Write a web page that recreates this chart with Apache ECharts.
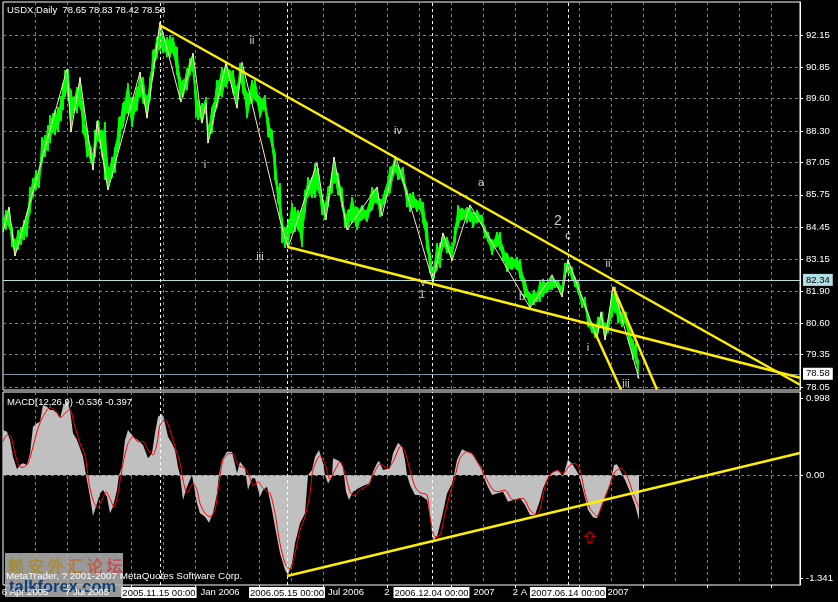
<!DOCTYPE html>
<html><head><meta charset="utf-8">
<style>html,body{margin:0;padding:0;background:#000}#c{width:838px;height:602px}</style>
<script src="https://cdn.jsdelivr.net/npm/echarts@6/dist/echarts.min.js"></script></head>
<body><div id="c"></div>
<script>
// bar number, high, low of the daily range
const priceBars = [
[3,84.86,84.26],[6,85.14,84.34],[9,85.26,84.46],[12,84.46,83.66],[15,83.94,83.30],[18,84.34,83.54],[21,84.46,83.74],[24,84.74,83.94],[27,85.02,84.06],[30,86.06,85.02],[33,86.42,85.66],[36,86.74,85.94],[39,86.62,86.02],[42,88.06,87.02],[45,88.14,87.26],[48,88.54,87.50],[50,88.94,87.82],[53,89.02,88.22],[55,89.14,88.14],[58,89.26,88.26],[61,89.70,88.70],[63,90.22,89.14],[65,90.74,89.66],[68,90.78,89.66],[71,89.94,88.26],[73,89.66,89.02],[77,90.06,89.02],[80,90.46,89.26],[83,89.42,88.22],[87,88.34,87.26],[91,87.66,87.02],[93,87.42,86.74],[95,88.34,87.26],[98,88.74,87.94],[102,88.34,87.26],[105,88.66,86.34],[108,86.86,85.94],[112,87.26,86.42],[115,87.66,86.62],[119,88.86,87.66],[123,89.42,88.46],[128,90.22,89.02],[132,89.66,88.46],[137,90.06,89.14],[140,90.66,89.66],[143,90.46,89.42],[147,89.66,88.82],[150,90.46,89.54],[153,91.54,90.46],[157,92.06,91.26],[160,92.66,91.54],[163,92.22,91.42],[167,92.06,91.26],[170,92.14,91.26],[173,92.06,91.42],[177,91.66,90.54],[180,90.46,89.54],[183,90.34,89.66],[187,90.82,89.94],[190,91.22,90.54],[193,91.42,90.66],[196,89.94,88.86],[198,89.54,88.74],[202,89.42,88.62],[206,89.66,89.02],[208,88.46,87.82],[212,89.26,88.22],[217,90.34,89.26],[222,90.86,89.66],[226,91.02,90.06],[230,90.74,90.34],[233,90.74,89.82],[237,90.06,89.22],[240,91.02,90.22],[243,90.86,89.82],[247,89.82,88.82],[252,90.34,89.42],[255,90.34,89.54],[260,89.66,88.86],[265,89.74,89.14],[268,88.86,88.06],[272,88.34,87.66],[275,87.42,86.34],[278,86.06,85.42],
[280,86.22,84.86],[282,84.86,83.82],[285,84.46,83.62],[288,84.74,83.66],[292,85.42,84.22],[295,85.26,84.26],[298,85.14,84.34],[302,85.14,83.66],[305,85.94,85.02],[308,86.46,85.66],[312,86.46,85.62],[315,87.02,85.62],[318,86.82,85.94],[322,85.74,84.94],[325,85.42,84.74],[328,86.06,85.26],[332,86.62,85.82],[334,87.26,86.22],[338,86.62,85.74],[342,86.02,85.26],[345,85.02,84.42],[348,85.14,84.34],[352,85.66,84.62],[357,85.26,84.34],[362,85.34,84.74],[367,85.14,84.66],[372,86.06,85.14],[377,86.06,85.42],[380,85.54,84.86],[385,85.94,85.42],[390,86.86,85.82],[395,87.26,86.66],[398,86.94,86.34],[403,86.86,86.22],[407,85.94,85.26],[410,85.82,85.06],[413,85.86,85.22],[417,85.54,85.06],[420,85.62,85.14],[423,85.46,84.62],[427,84.62,83.54],[430,83.42,82.62],[433,82.74,82.22],[437,83.82,82.74],[440,83.82,82.82],[443,84.22,83.66],[447,84.06,83.42],[452,83.66,83.14],[455,84.46,83.82],[458,85.34,84.46],[462,85.22,84.74],[467,85.26,84.62],[470,85.34,84.66],[473,85.06,84.42],[477,85.14,84.62],[482,84.94,84.54],[485,84.46,84.02],[488,84.26,83.86],[492,83.94,83.34],[497,84.26,83.66],[500,84.26,83.54],[503,83.66,83.14],[507,83.42,82.66],[512,83.26,82.74],[517,83.26,82.74],[520,83.14,82.42],[525,82.34,81.66],[530,81.82,81.22],[534,81.94,81.34],[537,81.82,81.46],
[540,82.34,81.46],[543,82.38,81.66],[547,82.22,81.82],[552,82.54,81.94],[555,82.34,82.02],[558,82.34,82.02],[562,82.06,81.66],[565,83.02,82.62],[568,83.14,82.62],[572,82.86,82.34],[575,82.46,82.06],[578,82.34,81.82],[582,81.66,81.22],[585,81.66,81.22],[588,81.02,80.46],[592,80.62,80.22],[595,80.46,80.02],[598,80.86,80.22],[602,81.06,80.46],[605,80.62,79.94],[608,80.74,80.22],[612,81.86,80.86],[615,82.06,81.02],[618,81.54,80.62],[622,81.02,80.46],[626,81.06,80.54],[629,80.54,79.82],[633,79.94,79.14],[636,79.82,79.02],[638,79.14,78.42]];
const zigzag = [[3,84.26],[9,85.26],[15,83.30],[67,90.78],[71,88.26],[80,90.42],[93,86.74],[97,88.70],[108,85.94],[140,90.66],[147,88.82],[160,92.66],[181,89.46],[193,91.42],[202,88.62],[206,89.42],[208,87.82],[226,91.02],[237,89.22],[242,91.06],[280,84.74],[288,83.62],[317,87.02],[326,84.74],[334,87.26],[347,84.34],[377,86.06],[382,84.90],[396,87.26],[433,82.26],[443,84.22],[452,83.10],[470,85.34],[530,81.22],[547,82.22],[552,82.54],[562,81.66],[568,83.14],[597,80.02],[601,81.06],[605,79.94],[613,82.06],[639,78.38]];
const upperTrendLines = [
 [[160,92.54],[800,78.14]],
 [[288,83.66],[800,78.42]],
 [[613,82.06],[657,77.94]],
 [[595,80.22],[621,77.94]]];
const macdTrendLine = [[287,-1.315],[800,0.286]];
const macdHist = [[3,0.586],[7,0.564],[10,0.456],[13,0.239],[17,0.074],[20,0.130],[23,0.152],[27,0.130],[30,0.282],[33,0.629],[37,0.673],[40,0.694],[43,0.911],[47,0.890],[50,0.846],[53,0.846],[57,0.803],[60,0.738],[63,0.890],[67,0.977],[70,0.846],[73,0.543],[77,0.456],[80,0.347],[83,0.239],[86,0],[90,-0.282],[93,-0.534],[97,-0.369],[100,-0.239],[103,-0.195],[107,-0.282],[110,-0.499],[113,-0.412],[117,-0.195],[119,0],[122,0.109],[125,0.456],[128,0.586],[132,0.521],[135,0.477],[138,0.456],[143,0.391],[148,0.217],[152,0.282],[155,0.543],[158,0.760],[162,0.794],[165,0.673],[168,0.499],[172,0.412],[175,0.326],[178,0.109],[180,0],[183,-0.326],[187,-0.152],[192,0],[197,-0.369],[200,-0.499],[205,-0.543],[209,-0.621],[213,-0.499],[217,-0.239],[219,0],[222,0.195],[227,0.304],[232,0.304],[237,0.022],[240,0.174],[245,0.087],[248,-0.195],[252,-0.043],[255,-0.043],[260,-0.282],[263,-0.195],[267,-0.152],[272,-0.456],[275,-0.673],[280,-1.020],[285,-1.237],[288,-1.302],[292,-1.150],[295,-0.890],[300,-0.629],[305,-0.499],[308,0],[312,0.065],[315,0.239],[319,0.326],[323,0.152],[325,0],[328,-0.109],[332,-0.022],[333,0.217],[337,0.195],[340,0.174],[343,0.109],[346,-0.217],[349,-0.326],[353,-0.217],[358,-0.174],[365,-0.130],[370,-0.109],[373,0.043],[377,0.152],[379,0.187],[383,0.065],[390,0.087],[393,0.282],[398,0.421],[402,0.369],[405,0.195],[407,0],[410,-0.130],[415,-0.260],[420,-0.260],[427,-0.326],[430,-0.543],[433,-0.846],[437,-0.803],[442,-0.543],[447,-0.239],[452,-0.109],[454,0],[457,0.195],[462,0.334],[467,0.304],[472,0.282],[477,0.174],[482,0.087],[483,0],[487,-0.130],[492,-0.260],[497,-0.239],[503,-0.217],[508,-0.347],[513,-0.326],[520,-0.304],[525,-0.391],[530,-0.521],[535,-0.521],[540,-0.330],[543,-0.174],[548,-0.022],[553,0.043],[558,0.065],[563,-0.022],[568,0.204],[573,0.130],[579,0],[583,-0.195],[588,-0.456],[593,-0.551],[597,-0.564],[600,-0.456],[605,-0.304],[610,-0.109],[612,0],[614,0.130],[617,0.139],[620,0.065],[625,-0.065],[630,-0.217],[635,-0.391],[639,-0.586]];
const macdSignal = [[3,0.434],[7,0.521],[11,0.499],[15,0.282],[19,0.117],[23,0.100],[28,0.152],[33,0.369],[38,0.608],[43,0.760],[50,0.881],[55,0.846],[61,0.751],[65,0.803],[70,0.855],[74,0.673],[80,0.412],[85,0.260],[89,-0.109],[93,-0.326],[97,-0.421],[102,-0.326],[106,-0.217],[110,-0.304],[114,-0.421],[118,-0.239],[123,0.152],[128,0.412],[133,0.499],[138,0.434],[143,0.434],[148,0.326],[153,0.260],[157,0.412],[160,0.651],[165,0.725],[170,0.586],[175,0.369],[180,0.152],[183,-0.065],[187,-0.230],[193,-0.109],[197,-0.195],[200,-0.369],[205,-0.499],[210,-0.543],[215,-0.456],[218,-0.195],[223,0.195],[228,0.273],[233,0.282],[238,0.130],[245,0.087],[250,-0.043],[253,-0.130],[258,-0.087],[263,-0.174],[270,-0.239],[275,-0.499],[280,-0.890],[285,-1.150],[290,-1.228],[295,-1.020],[300,-0.716],[305,-0.543],[310,-0.239],[313,0.065],[320,0.252],[325,0.152],[330,-0.056],[335,0.065],[340,0.174],[345,0.022],[350,-0.217],[354,-0.273],[360,-0.195],[368,-0.130],[373,0],[380,0.139],[388,0.087],[393,0.174],[401,0.378],[405,0.304],[410,0.065],[415,-0.152],[420,-0.230],[427,-0.260],[430,-0.543],[435,-0.803],[440,-0.781],[445,-0.499],[450,-0.239],[455,-0.022],[460,0.217],[467,0.304],[473,0.260],[480,0.109],[487,-0.065],[493,-0.195],[498,-0.217],[505,-0.195],[513,-0.326],[523,-0.304],[530,-0.456],[537,-0.529],[540,-0.447],[545,-0.152],[550,0],[557,0.056],[563,0.022],[570,0.130],[575,0.152],[580,0.065],[585,-0.239],[590,-0.434],[597,-0.534],[603,-0.347],[610,-0.130],[615,0.043],[621,0.087],[628,-0.043],[633,-0.239],[639,-0.421]];
const priceTicks = [92.15,90.85,89.60,88.30,87.05,85.75,84.45,83.15,81.90,80.60,79.35,78.05];
const priceTickText = ['92.15','90.85','89.60','88.30','87.05','85.75','84.45','83.15','81.90','80.60','79.35','78.05'];
const macdTicks = [0.998,0,-1.341];
const macdTickText = ['0.998','0.00','-1.341'];
const gridBars = [35,67,99,131,163,195,227,259,291,323,355,387,419,451,483,515,547,579,611,643,675,707,739,771];
const timeMarkBars = [67,131,195,259,323,387,451,515,579,643,707,771];
const cursorBars = [160,287,432,568];
const timeTickBars = [25,87,220,346,387,484,520,618,159,287,431.5,568];
const timeTickText = ['6 Apr 2005','7 Jul 2005','Jan 2006','Jul 2006','2','2007','2 A','2007','2005.11.15 00:00','2006.05.15 00:00','2006.12.04 00:00','2007.06.14 00:00'];
const waveLabels = [[252,91.90,'ii'],[205,86.94,'i'],[260,83.26,'iii'],[398,88.30,'iv'],[481,86.22,'a'],[422,81.74,'1'],[423,82.22,'v'],[568,84.10,'c'],[522,81.66,'b'],[608,82.98,'ii'],[588,79.62,'i'],[626,78.18,'iii']];
const bigWaveLabels = [[558,84.70,'2']];
const arrowMark = [[590,-0.807]];
const watermarkChars = ['赖','安','外','汇','论','坛'];
const watermarkColors = ['#a08c38','#a88c38','#b08a38','#b57a40','#b86050','#c45058'];
const FONT='"Liberation Sans"', GRIDC='#708090', FS=9.5;
const chart = echarts.init(document.getElementById('c'));
const xCommon = {type:'value',min:3,max:800,
  axisLine:{show:false},axisTick:{show:false,customValues:gridBars},
  splitLine:{show:true,lineStyle:{color:GRIDC,type:[3,3],width:1}}};
const trend = (d,x,y)=>({type:'line',data:d,xAxisIndex:x,yAxisIndex:y,symbol:'none',silent:true,z:6,
  lineStyle:{color:'#ffee00',width:2.5},clip:true});
chart.setOption({
 animation:false,backgroundColor:'#000',
 grid:[{left:3,top:2,width:797,height:388,show:true,borderColor:'#fff',borderWidth:1,outerBoundsMode:'none'},
       {left:3,top:392,width:797,height:193,show:true,borderColor:'#fff',borderWidth:1,outerBoundsMode:'none'}],
 xAxis:[
  {...xCommon,gridIndex:0,axisLabel:{show:false}},
  {...xCommon,gridIndex:1,axisLabel:{show:false}},
  {type:'value',gridIndex:1,min:3,max:800,position:'bottom',z:40,axisLine:{show:false},splitLine:{show:false},
   axisTick:{show:true,length:3,customValues:timeMarkBars,lineStyle:{color:'#fff'}},
   axisLabel:{show:true,customValues:timeTickBars,hideOverlap:false,interval:0,margin:2,color:'#fff',fontFamily:FONT,fontSize:FS,showMinLabel:true,showMaxLabel:true,
     formatter:v=>{const i=timeTickBars.indexOf(v);const t=timeTickText[i];return i>=8?'{b|'+t+'}':t;},
     rich:{b:{backgroundColor:'#fff',color:'#000',fontFamily:FONT,fontSize:FS,padding:[1,1,0,1]}}}}],
 yAxis:[
  {type:'value',gridIndex:0,position:'right',min:77.93,max:93.47,
   axisLine:{show:true,lineStyle:{color:'#fff'}},
   axisTick:{show:true,length:3,customValues:priceTicks,lineStyle:{color:'#fff'}},
   axisLabel:{customValues:priceTicks,color:'#fff',fontFamily:FONT,fontSize:FS,margin:6,showMinLabel:true,showMaxLabel:true,
     formatter:v=>priceTickText[priceTicks.indexOf(v)]},
   splitLine:{show:true,lineStyle:{color:GRIDC,type:[3,3]}}},
  {type:'value',gridIndex:1,position:'right',min:-1.432,max:1.081,
   axisLine:{show:true,lineStyle:{color:'#fff'}},
   axisTick:{show:true,length:3,customValues:macdTicks,lineStyle:{color:'#fff'}},
   axisLabel:{customValues:macdTicks,color:'#fff',fontFamily:FONT,fontSize:FS,margin:6,showMinLabel:true,showMaxLabel:true,
     formatter:v=>macdTickText[macdTicks.indexOf(v)]},
   splitLine:{show:false}}],
 series:[
  {type:'custom',name:'USDX',xAxisIndex:0,yAxisIndex:0,silent:true,z:3,data:priceBars,encode:{x:0,y:[1,2]},
   renderItem:(p,api)=>{
     const i=p.dataIndex, n=priceBars[Math.min(i+1,priceBars.length-1)];
     const x0=api.value(0),h0=api.value(1),l0=api.value(2),x1=n[0],h1=n[1],l1=n[2];
     const xm=(x0+x1)/2, dip=0.28*Math.min(h0-l0,h1-l1);
     const hm=(h0+h1)/2-dip, lm=(l0+l1)/2+dip;
     const pts=[[x0,h0],[xm,hm],[x1,h1],[x1,l1],[xm,lm],[x0,l0]].map(q=>api.coord(q));
     return {type:'polygon',shape:{points:pts},style:{fill:'#00ff00',stroke:'#00ff00',lineWidth:1}};},
   markLine:{silent:true,symbol:'none',animation:false,precision:2,data:[
     {yAxis:82.34,lineStyle:{color:'#b8dcdc',type:'solid',width:1},label:{position:'end',distance:3,formatter:'82.34',color:'#000',backgroundColor:'#b0e0e6',fontFamily:FONT,fontSize:FS,padding:[1,3]}},
     {yAxis:78.58,lineStyle:{color:'#8090a0',type:'solid',width:1},label:{position:'end',distance:3,formatter:'78.58',color:'#000',backgroundColor:'#fff',fontFamily:FONT,fontSize:FS,padding:[1,3]}},
     ...cursorBars.map(b=>({xAxis:b,lineStyle:{color:'#fff',type:[3,3],width:1},label:{show:false}}))]}},
  {type:'line',name:'ZigZag',data:zigzag,xAxisIndex:0,yAxisIndex:0,symbol:'none',silent:true,z:4,lineStyle:{color:'#ffe4c4',width:1}},
  ...upperTrendLines.map(d=>trend(d,0,0)),
  {type:'scatter',data:waveLabels,xAxisIndex:0,yAxisIndex:0,symbolSize:0,silent:true,z:7,
   label:{show:true,position:'inside',formatter:p=>p.data[2],color:'#ffffff',fontFamily:FONT,fontSize:11}},
  {type:'scatter',data:bigWaveLabels,xAxisIndex:0,yAxisIndex:0,symbolSize:0,silent:true,z:7,
   label:{show:true,position:'inside',formatter:p=>p.data[2],color:'#ffffff',fontFamily:FONT,fontSize:14}},
  {type:'line',name:'MACD',data:macdHist,xAxisIndex:1,yAxisIndex:1,symbol:'none',silent:true,z:3,
   lineStyle:{width:0},areaStyle:{color:'#c0c0c0',opacity:1,origin:0},
   markLine:{silent:true,symbol:'none',animation:false,data:[
     {yAxis:0,lineStyle:{color:GRIDC,type:[3,3],width:1},label:{show:false}},
     ...cursorBars.map(b=>({xAxis:b,lineStyle:{color:'#fff',type:[3,3],width:1},label:{show:false}}))]}},
  {type:'line',name:'Signal',data:macdSignal,xAxisIndex:1,yAxisIndex:1,symbol:'none',silent:true,z:4,smooth:0.25,lineStyle:{color:'#ff0000',width:1}},
  trend(macdTrendLine,1,1),
  {type:'scatter',data:arrowMark,xAxisIndex:1,yAxisIndex:1,silent:true,z:7,
   symbol:'path://M5,0 L10,5 L7,5 L7,11 L3,11 L3,5 L0,5 Z',symbolSize:[10,11],
   itemStyle:{color:'rgba(0,0,0,0)',borderColor:'#ff0000',borderWidth:1}}
 ],
 graphic:[
  {type:'text',left:7,top:5,z:20,style:{text:'USDX,Daily  78.65 78.83 78.42 78.58',fill:'#fff',font:FS+'px '+FONT}},
  {type:'text',left:7,top:397,z:20,style:{text:'MACD(12,26,9) -0.536 -0.397',fill:'#fff',font:FS+'px '+FONT}},
  {type:'rect',z:30,silent:true,shape:{x:5,y:553,width:118,height:44},style:{fill:'rgba(180,180,180,0.85)'}},
  ...watermarkChars.map((c,i)=>({type:'text',left:8+i*19.7,top:558,z:31,silent:true,style:{text:c,font:'bold 16px "Noto Sans CJK SC"',fill:watermarkColors[i]}})),
  {type:'text',left:6,top:571,z:32,style:{text:'MetaTrader, ? 2001-2007 MetaQuotes Software Corp.',fill:'#fff',font:'9.9px '+FONT}},
  {type:'text',left:9,top:579,z:33,silent:true,style:{text:'talkforex.com',fill:'#0f3f78',font:'bold 16.5px "Liberation Sans"'}}
 ]
});
</script></body></html>
